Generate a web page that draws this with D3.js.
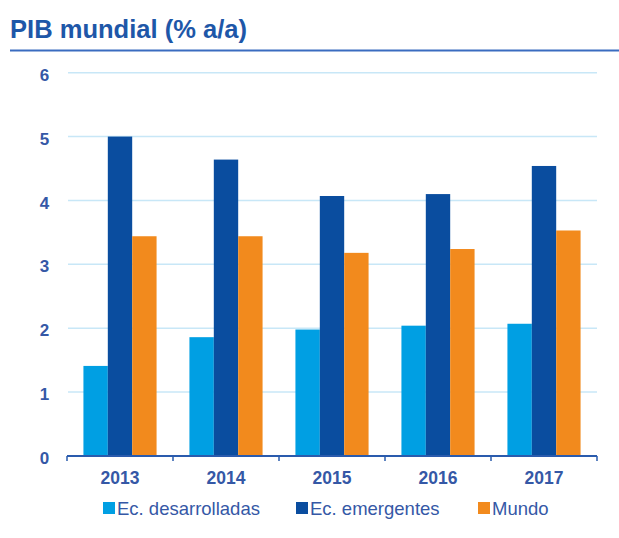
<!DOCTYPE html>
<html>
<head>
<meta charset="utf-8">
<script src="https://cdn.jsdelivr.net/npm/d3@7"></script>
<style>
body { margin: 0; background: #fff; }
svg text { font-family: "Liberation Sans", Arial, sans-serif; }
</style>
</head>
<body>
<div id="chart"></div>
<script>

let width = 619
let height = 538

let years = ['2013', '2014', '2015', '2016', '2017']
let seriesNames = ['Ec. desarrolladas', 'Ec. emergentes', 'Mundo']
let desarrolladas = [1.41, 1.86, 1.98, 2.04, 2.07]
let emergentes = [5.0, 4.64, 4.07, 4.10, 4.54]
let mundo = [3.44, 3.44, 3.18, 3.24, 3.53]
let yTicks = [0, 1, 2, 3, 4, 5, 6]

let colors = ['#009fe3', '#0a4d9f', '#f28a1d']
let textColor = '#3558a6'

let plotLeft = 67
let plotRight = 597
let plotTop = 72.7
let plotBottom = 456

const svg = d3.select('#chart')
	.append('svg')
	.attr('width', width)
	.attr('height', height)

// title + rule
svg.append('text')
	.attr('x', 10)
	.attr('y', 38)
	.attr('fill', '#1e57a8')
	.attr('font-size', 25)
	.attr('font-weight', 'bold')
	.attr('textLength', 237)
	.attr('lengthAdjust', 'spacingAndGlyphs')
	.text('PIB mundial (% a/a)')

svg.append('line')
	.attr('x1', 10).attr('x2', width)
	.attr('y1', 50.5).attr('y2', 50.5)
	.attr('stroke', '#3a6cc0')
	.attr('stroke-width', 2)

let x = d3.scaleBand()
	.domain(years)
	.range([plotLeft, plotRight])
	.paddingInner(0.31)
	.paddingOuter(0.155)

let xSub = d3.scaleBand()
	.domain(seriesNames)
	.range([0, x.bandwidth()])

let y = d3.scaleLinear()
	.domain([0, 6])
	.range([plotBottom, plotTop])

// gridlines
svg.append('g')
	.selectAll('line')
	.data(yTicks.filter(d => d > 0))
	.enter()
	.append('line')
	.attr('x1', 68).attr('x2', plotRight)
	.attr('y1', d => y(d)).attr('y2', d => y(d))
	.attr('stroke', '#c8e7f7')
	.attr('stroke-width', 1.5)

// y labels
svg.append('g')
	.selectAll('text')
	.data(yTicks)
	.enter()
	.append('text')
	.attr('x', 44.5)
	.attr('y', d => y(d) + 2)
	.attr('dy', '0.36em')
	.attr('text-anchor', 'middle')
	.attr('fill', textColor)
	.attr('font-size', 17)
	.attr('font-weight', 'bold')
	.text(d => d)

let rows = years.map((yr, i) => ({
	year: yr,
	values: [desarrolladas[i], emergentes[i], mundo[i]]
}))

let groups = svg.append('g')
	.selectAll('g')
	.data(rows)
	.enter()
	.append('g')
	.attr('transform', d => `translate(${x(d.year)},0)`)

groups.selectAll('rect')
	.data(d => d.values.map((v, j) => ({name: seriesNames[j], value: v, c: colors[j]})))
	.enter()
	.append('rect')
	.attr('x', d => xSub(d.name))
	.attr('width', xSub.bandwidth())
	.attr('y', d => y(d.value))
	.attr('height', d => plotBottom - y(d.value))
	.attr('fill', d => d.c)

// x axis line with ticks at band edges
let edges = d3.range(years.length + 1).map(i => plotLeft + i * (plotRight - plotLeft) / years.length)

svg.append('line')
	.attr('x1', plotLeft).attr('x2', plotRight)
	.attr('y1', plotBottom).attr('y2', plotBottom)
	.attr('stroke', '#2a5bad')
	.attr('stroke-width', 2)

svg.append('g')
	.selectAll('line')
	.data(edges)
	.enter()
	.append('line')
	.attr('x1', d => d).attr('x2', d => d)
	.attr('y1', plotBottom).attr('y2', plotBottom + 5)
	.attr('stroke', '#2a5bad')
	.attr('stroke-width', 1.5)

svg.append('g')
	.selectAll('text')
	.data(years)
	.enter()
	.append('text')
	.attr('x', d => x(d) + x.bandwidth() / 2)
	.attr('y', 484)
	.attr('text-anchor', 'middle')
	.attr('fill', textColor)
	.attr('font-size', 17.5)
	.attr('font-weight', 'bold')
	.text(d => d)

// legend
let legendX = [103, 296, 478]
let legend = svg.append('g')
	.selectAll('g')
	.data(seriesNames)
	.enter()
	.append('g')
	.attr('transform', (d, i) => `translate(${legendX[i]},515)`)

legend.append('rect')
	.attr('x', 0).attr('y', -13)
	.attr('width', 12).attr('height', 12)
	.attr('fill', (d, i) => colors[i])

legend.append('text')
	.attr('x', 14)
	.attr('y', 0)
	.attr('fill', textColor)
	.attr('font-size', 18.5)
	.text(d => d)

</script>
</body>
</html>
